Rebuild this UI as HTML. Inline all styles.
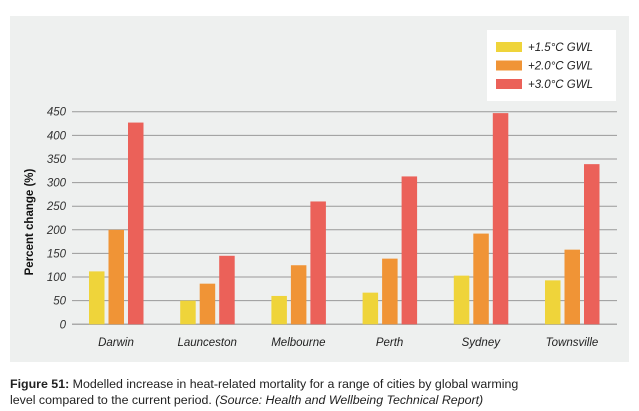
<!DOCTYPE html>
<html><head><meta charset="utf-8"><style>
body{margin:0;width:639px;height:411px;background:#fff;font-family:"Liberation Sans",sans-serif;overflow:hidden;position:relative}
#panel{position:absolute;left:10px;top:16px;width:619px;height:346px;background:#eef0ef}
#cap{position:absolute;left:10px;top:376px;font-size:12.4px;line-height:16px;color:#222;width:629px;white-space:nowrap}
</style></head><body>
<div id="panel"></div>
<svg id="chart" width="639" height="411" style="position:absolute;left:0;top:0"></svg>
<div id="cap"><b>Figure 51:</b> Modelled increase in heat-related mortality for a range of cities by global warming<br>level compared to the current period. <i>(Source: Health and Wellbeing Technical Report)</i></div>
<script>
const categories=["Darwin","Launceston","Melbourne","Perth","Sydney","Townsville"];
const seriesNames=["+1.5°C GWL","+2.0°C GWL","+3.0°C GWL"];
const gwl15=[112,50,60,67,103,93];
const gwl20=[200,86,125,139,192,158];
const gwl30=[427,145,260,313,447,339];
const yTicks=[0,50,100,150,200,250,300,350,400,450];
const colors=["#efd43a","#f09436","#eb6159"];
const series=[gwl15,gwl20,gwl30];
const NS="http://www.w3.org/2000/svg";
const svg=document.getElementById('chart');
const y0=324.3, yTop=111.7, x0=72, x1=617;
function yS(v){return y0-(v/450)*(y0-yTop);}
function gx(i){return 89+i*91.2;}
function mk(t,a){const e=document.createElementNS(NS,t);for(const k in a)e.setAttribute(k,a[k]);svg.appendChild(e);return e;}
yTicks.forEach(t=>{
 const l=mk('line',{x1:x0,x2:x1,y1:yS(t),y2:yS(t),stroke:t===0?'#aaa':'#999','stroke-width':t===0?1.5:1});
 
 
 const tx=mk('text',{x:66,y:yS(t)+4,'text-anchor':'end','font-size':11.5,'font-style':'italic',fill:'#333'});
 tx.textContent=t;
 
 
});
const yt=mk('text',{transform:'translate(33,222) rotate(-90)','text-anchor':'middle','font-size':11.5,'font-weight':'bold',fill:'#111'});
yt.textContent='Percent change (%)';


categories.forEach((c,i)=>{
 series.forEach((s,j)=>{
  const top=yS(s[i]);
  const r=mk('rect',{x:gx(i)+j*19.5,y:top,width:15.5,height:y0-top,fill:colors[j]});
  
  
 });
 const t=mk('text',{x:gx(i)+27,y:346,'text-anchor':'middle','font-size':11.5,'font-style':'italic',fill:'#222'});
 t.textContent=c;
 
 
});
const lg=mk('rect',{x:487,y:30,width:129,height:71,fill:'#fff'});


seriesNames.forEach((n,j)=>{
 const sw=mk('rect',{x:496,y:42+j*18.5,width:26,height:10,fill:colors[j]});
 
 
 const t=mk('text',{x:528,y:51+j*18.5,'font-size':11.5,'font-style':'italic',fill:'#222'});
 t.textContent=n;
 
 
});
</script>
</body></html>
